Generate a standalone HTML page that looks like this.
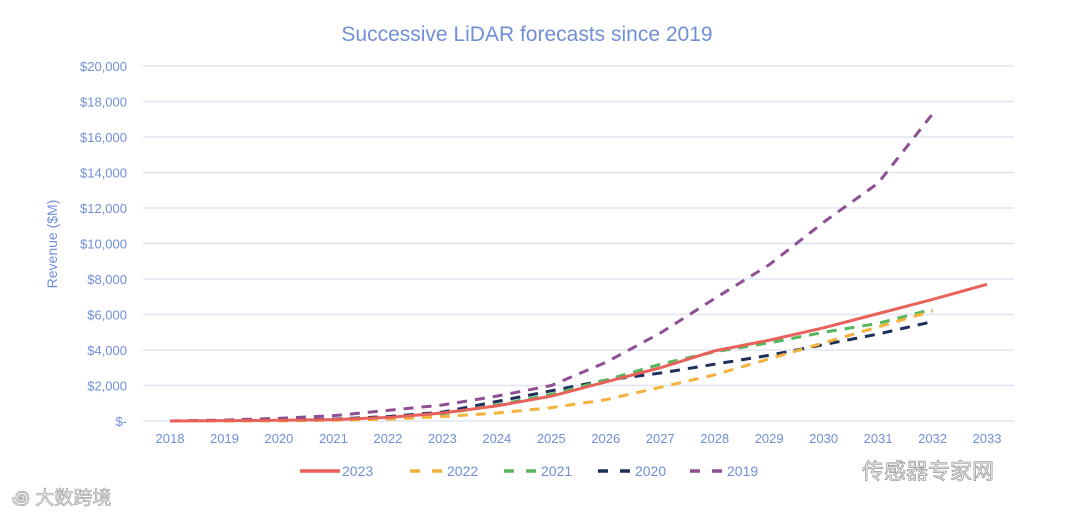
<!DOCTYPE html>
<html><head><meta charset="utf-8"><style>
body{margin:0;background:#fff;width:1080px;height:517px;overflow:hidden;font-family:"Liberation Sans","Noto Sans CJK SC",sans-serif}
</style></head><body>
<svg id="chart" width="1080" height="517" xmlns="http://www.w3.org/2000/svg">
<text x="527" y="41" text-anchor="middle" font-size="21" fill="#6f8fd9">Successive LiDAR forecasts since 2019</text>
<text transform="translate(57,244) rotate(-90)" text-anchor="middle" font-size="14" fill="#6f8fd9">Revenue ($M)</text>
<g id="grid"></g><g id="lines"></g><g id="legend"></g>
<text x="12" y="504" font-size="19" fill="#eee" stroke="#999" stroke-width="0.6">꩜ 大数跨境</text>
<text x="862" y="479" font-size="22" fill="#eee" stroke="#888" stroke-width="0.6">传感器专家网</text>
</svg>
<script>
const years=[2018,2019,2020,2021,2022,2023,2024,2025,2026,2027,2028,2029,2030,2031,2032,2033];
const yTicks=[0,2000,4000,6000,8000,10000,12000,14000,16000,18000,20000];
const yTickLabels=["$-","$2,000","$4,000","$6,000","$8,000","$10,000","$12,000","$14,000","$16,000","$18,000","$20,000"];
const seriesNames=["2023","2022","2021","2020","2019"];
const s2023=[0,20,40,80,200,450,850,1400,2200,3000,3950,4550,5250,6050,6850,7700];
const s2022=[0,0,10,40,100,250,450,750,1200,1900,2600,3500,4400,5300,6200];
const s2021=[0,10,30,60,150,400,900,1500,2300,3200,3900,4400,5000,5500,6300];
const s2020=[0,20,50,100,250,500,1100,1700,2300,2700,3200,3700,4300,4900,5600];
const s2019=[0,50,150,300,600,900,1400,2000,3300,4950,6900,8800,11200,13400,17300];
const colors=["#e8615a","#f4b23c","#55b75c","#1e2f5c","#8f4f94"];
const data=[s2023,s2022,s2021,s2020,s2019];
const ns="http://www.w3.org/2000/svg";
const X=i=>170+i*54.47, Y=v=>421-v*355/20000;
const grid=document.getElementById('grid');
yTicks.forEach((t,i)=>{
 const l=document.createElementNS(ns,'line');
 
 
 l.setAttribute('x1',143);l.setAttribute('x2',1014);l.setAttribute('y1',Y(t));l.setAttribute('y2',Y(t));
 l.setAttribute('stroke','#e1e5f3');l.setAttribute('stroke-width','1.5');grid.appendChild(l);
 const tx=document.createElementNS(ns,'text');
 
 
 tx.setAttribute('x',127);tx.setAttribute('y',Y(t)+5);tx.setAttribute('text-anchor','end');
 tx.setAttribute('font-size','13');tx.setAttribute('fill','#6f8fd9');tx.textContent=yTickLabels[i];grid.appendChild(tx);
});
years.forEach((y,i)=>{
 const tx=document.createElementNS(ns,'text');
 
 
 tx.setAttribute('x',X(i));tx.setAttribute('y',443);tx.setAttribute('text-anchor','middle');
 tx.setAttribute('font-size','13');tx.setAttribute('fill','#6f8fd9');tx.textContent=y;grid.appendChild(tx);
});
const lines=document.getElementById('lines');
for(let k=data.length-1;k>=0;k--){
 const p=document.createElementNS(ns,'polyline');
 
 
 p.setAttribute('points',data[k].map((v,i)=>X(i)+','+Y(v)).join(' '));
 p.setAttribute('fill','none');p.setAttribute('stroke',colors[k]);p.setAttribute('stroke-width','3');
 if(k>0)p.setAttribute('stroke-dasharray','10,8');
 lines.appendChild(p);
}
const leg=document.getElementById('legend');
const lx=[300,410,504,598,690];
seriesNames.forEach((n,k)=>{
 const l=document.createElementNS(ns,'line');
 
 
 l.setAttribute('x1',lx[k]);l.setAttribute('x2',lx[k]+(k==0?40:32));l.setAttribute('y1',471);l.setAttribute('y2',471);
 l.setAttribute('stroke',colors[k]);l.setAttribute('stroke-width','3.5');
 if(k>0)l.setAttribute('stroke-dasharray','10,12');
 leg.appendChild(l);
 const t=document.createElementNS(ns,'text');
 
 
 t.setAttribute('x',lx[k]+(k==0?42:37));t.setAttribute('y',476);t.setAttribute('font-size','14');t.setAttribute('fill','#6f8fd9');
 t.textContent=n;leg.appendChild(t);
});
</script>
</body></html>
